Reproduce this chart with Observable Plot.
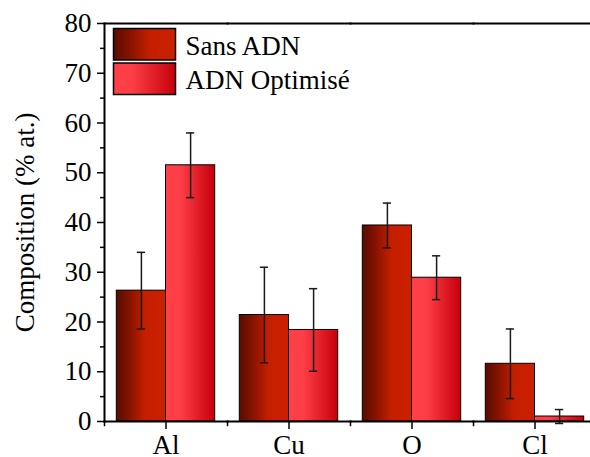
<!DOCTYPE html>
<html><head><meta charset="utf-8">
<script src="https://cdn.jsdelivr.net/npm/d3@7"></script>
<script src="https://cdn.jsdelivr.net/npm/@observablehq/plot@0.6"></script>
<style>
body{margin:0;background:#fff;}
#wrap{position:relative;width:590px;height:457px;overflow:hidden;font-family:"Liberation Serif","Times New Roman",serif;}
#wrap svg.plot, #wrap svg{position:absolute;left:0;top:0;}
#wrap text, #wrap tspan{font-family:"Liberation Serif","Times New Roman",serif !important;}
</style></head><body>
<svg width="0" height="0" style="position:absolute">
<defs>
<linearGradient id="gSans" x1="0" x2="1" y1="0" y2="0">
<stop offset="0" stop-color="#580c00"/>
<stop offset="0.3" stop-color="#8c1400"/>
<stop offset="0.58" stop-color="#c41e00"/>
<stop offset="1" stop-color="#cc2000"/>
</linearGradient>
<linearGradient id="gOpt" x1="0" x2="1" y1="0" y2="0">
<stop offset="0" stop-color="#ff4048"/>
<stop offset="0.3" stop-color="#fd3e47"/>
<stop offset="1" stop-color="#c6000a"/>
</linearGradient>
</defs>
</svg>
<div id="wrap"></div>
<script>
const elements = ["Al", "Cu", "O", "Cl"];
const seriesNames = ["Sans ADN", "ADN Optimisé"];
const sansValues = [26.3, 21.4, 39.4, 11.6];
const sansErrors = [7.7, 9.6, 4.5, 7.0];
const optValues = [51.5, 18.4, 28.9, 1.0];
const optErrors = [6.5, 8.3, 4.4, 1.4];
const yMajorTicks = [0, 10, 20, 30, 40, 50, 60, 70, 80];
const yMinorTicks = [5, 15, 25, 35, 45, 55, 65, 75];
const fills = {"Sans ADN": "url(#gSans)", "ADN Optimisé": "url(#gOpt)"};

const rows = elements.flatMap((e, i) => [
  {element: e, series: seriesNames[0], value: sansValues[i], err: sansErrors[i]},
  {element: e, series: seriesNames[1], value: optValues[i], err: optErrors[i]}
]);

const font = '"Liberation Serif", "Times New Roman", serif';

const chart = Plot.plot({
  width: 590,
  height: 457,
  marginLeft: 103,
  marginTop: 23,
  marginBottom: 36,
  marginRight: -7.4,
  style: {fontFamily: font, fontSize: "27px", background: "transparent", color: "#000"},
  fx: {domain: elements, padding: 0, label: null},
  x: {domain: seriesNames, paddingInner: 0, paddingOuter: 0.25, round: false, axis: null},
  y: {domain: [0, 80], label: null},
  marks: [
    Plot.barY(rows.filter(d => d.series === seriesNames[0]), {fx: "element", x: "series", y: "value", fill: fills[seriesNames[0]], stroke: "#000", strokeWidth: 1}),
    Plot.barY(rows.filter(d => d.series === seriesNames[1]), {fx: "element", x: "series", y: "value", fill: fills[seriesNames[1]], stroke: "#000", strokeWidth: 1}),
    Plot.ruleX(rows, {fx: "element", x: "series", y1: d => d.value - d.err, y2: d => d.value + d.err, stroke: "#1a1a1a", strokeWidth: 1.5}),
    Plot.tickY(rows, {fx: "element", x: "series", y: d => d.value - d.err, insetLeft: 20.5, insetRight: 20.5, stroke: "#1a1a1a", strokeWidth: 1.5}),
    Plot.tickY(rows, {fx: "element", x: "series", y: d => d.value + d.err, insetLeft: 20.5, insetRight: 20.5, stroke: "#1a1a1a", strokeWidth: 1.5}),
    Plot.axisY({ticks: yMajorTicks, tickSize: 7, tickPadding: 6, fontSize: 27, strokeWidth: 1.5, label: "Composition (% at.)", labelAnchor: "center", labelArrow: "none", labelOffset: 90}),
    Plot.axisY({ticks: yMinorTicks, tickSize: 4, text: null, label: null, strokeWidth: 1.5}),
    Plot.axisFx({anchor: "bottom", tickSize: 8, tickPadding: 5, fontSize: 27, strokeWidth: 1.5, label: null}),
    Plot.frame({anchor: "left", facetAnchor: "left", strokeWidth: 2}),
    Plot.frame({anchor: "top", strokeWidth: 2}),
    Plot.frame({anchor: "bottom", strokeWidth: 2}),
    Plot.frame({anchor: "left", insetTop: 398, insetBottom: -4, strokeWidth: 1.5})
  ]
});

const wrap = document.getElementById("wrap");
wrap.appendChild(chart);

// legend
const leg = d3.select(wrap).append("svg").attr("id", "legend").attr("width", 590).attr("height", 457);
seriesNames.forEach((name, i) => {
  const g = leg.append("g").attr("transform", `translate(113.5,${28.5 + i * 34.5})`);
  g.append("rect").attr("width", 62).attr("height", 31.5).attr("fill", fills[name]).attr("stroke", "#000").attr("stroke-width", 1.5);
  g.append("text").attr("x", 72).attr("y", 26).style("font-family", font).attr("font-size", 27).attr("fill", "#000").text(name);
});
</script>
</body></html>
